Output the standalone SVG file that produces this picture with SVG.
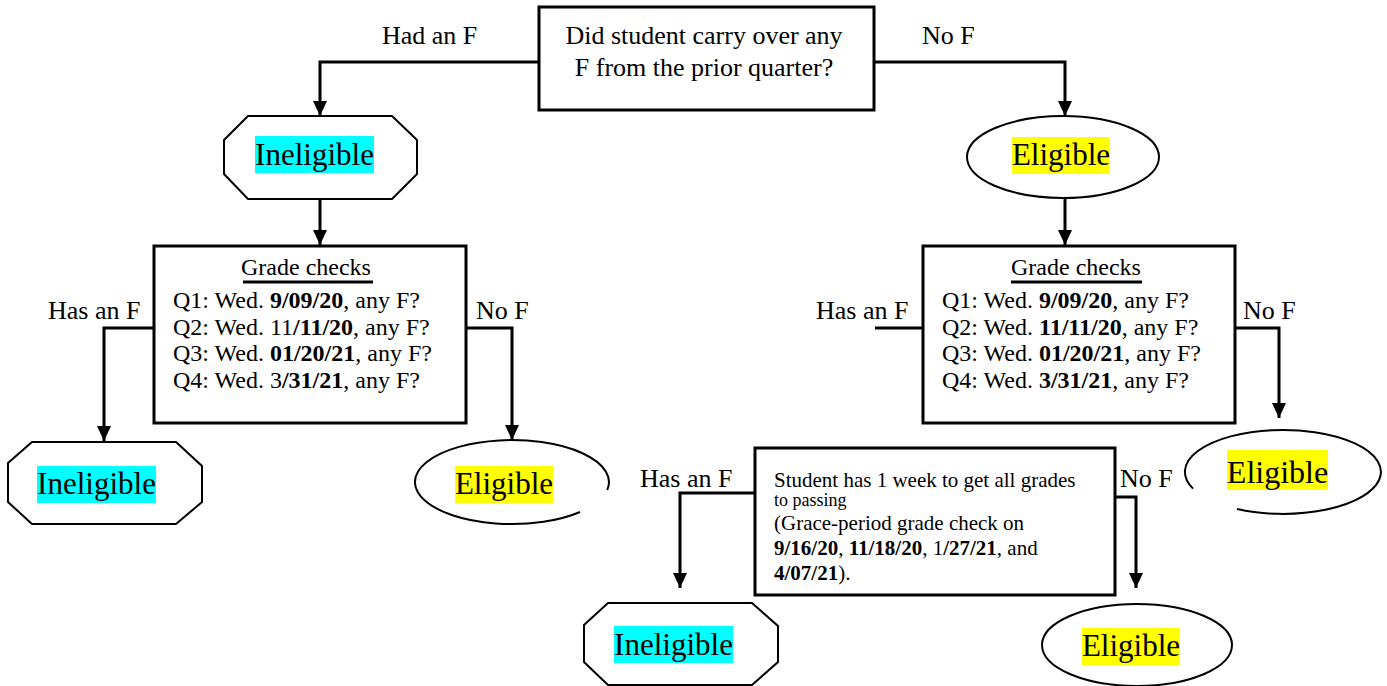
<svg xmlns="http://www.w3.org/2000/svg" width="1387" height="686" viewBox="0 0 1387 686">
<defs>
<marker id="arr" markerUnits="userSpaceOnUse" markerWidth="16" markerHeight="16" viewBox="0 0 16 16" refX="15" refY="8" orient="auto">
<path d="M0,1 L15,8 L0,15 Z" fill="#000"/>
</marker>
</defs>
<style>
text{font-family:"Liberation Serif","Times New Roman",serif;fill:#000}
.box{fill:#fff;stroke:#000;stroke-width:3}
.shape{fill:#fff;stroke:#000;stroke-width:2}
.big{font-family:"Liberation Serif","Times New Roman",serif;font-size:31px;text-anchor:middle}
.lbl{font-size:26px}
.q{font-size:24px}
.s{font-size:21px}
.cy{fill:#00ffff}
.ye{fill:#ffff00}
.con{fill:none;stroke:#000;stroke-width:3}
.b{font-weight:bold}
</style>
<g id="connectors">
<polyline class="con" points="539,62 320,62 320,116" marker-end="url(#arr)"/>
<polyline class="con" points="874,62 1065,62 1065,116" marker-end="url(#arr)"/>
<polyline class="con" points="320,200 320,245" marker-end="url(#arr)"/>
<polyline class="con" points="1065,199 1065,245" marker-end="url(#arr)"/>
<polyline class="con" points="154,328 104,328 104,441" marker-end="url(#arr)"/>
<polyline class="con" points="466,328 512,328 512,440" marker-end="url(#arr)"/>
<polyline class="con" points="923,328 875,328"/>
<polyline class="con" points="1235,328 1279,328 1279,418" marker-end="url(#arr)"/>
<polyline class="con" points="755,493 680,493 680,588" marker-end="url(#arr)"/>
<polyline class="con" points="1115,497 1136,497 1136,588" marker-end="url(#arr)"/>
<text class="lbl" x="382" y="44">Had an F</text>
<text class="lbl" x="922" y="44">No F</text>
<text class="lbl" x="48" y="319">Has an F</text>
<text class="lbl" x="476" y="319">No F</text>
<text class="lbl" x="816" y="319">Has an F</text>
<text class="lbl" x="1243" y="319">No F</text>
<text class="lbl" x="640" y="487">Has an F</text>
<text class="lbl" x="1120" y="487">No F</text>
</g>
<g id="question">
<rect class="box" x="539" y="7" width="335" height="103"/>
<text x="704" y="44" font-size="26" text-anchor="middle">Did student carry over any</text>
<text x="704" y="76" font-size="26" text-anchor="middle">F from the prior quarter?</text>
</g>
<g id="ineligible1">
<polygon class="shape" points="248,116 392,116 417,140 417,174 392,199 248,199 224,174 224,140"/>
<rect class="cy" x="255" y="136" width="119" height="37"/>
<text class="big" x="314.5" y="165">Ineligible</text>
</g>
<g id="eligible1">
<ellipse class="shape" cx="1063" cy="157" rx="96" ry="41"/>
<rect class="ye" x="1012" y="137" width="98" height="37"/>
<text class="big" x="1061" y="165">Eligible</text>
</g>
<g id="gradecheck-left">
<rect class="box" x="154" y="246" width="312" height="177"/>
<text class="q" x="306" y="275" text-anchor="middle">Grade checks</text>
<line x1="243" y1="282" x2="373" y2="282" stroke="#000" stroke-width="3"/>
<text class="q" x="173" y="308">Q1: Wed. <tspan class="b">9/09/20</tspan>, any F?</text>
<text class="q" x="173" y="335">Q2: Wed. 11<tspan class="b">/11/20</tspan>, any F?</text>
<text class="q" x="173" y="361">Q3: Wed. <tspan class="b">01/20/21</tspan>, any F?</text>
<text class="q" x="173" y="388">Q4: Wed. 3<tspan class="b">/31/21</tspan>, any F?</text>
</g>
<g id="gradecheck-right">
<rect class="box" x="923" y="246" width="312" height="177"/>
<text class="q" x="1076" y="275" text-anchor="middle">Grade checks</text>
<line x1="1011" y1="282" x2="1142" y2="282" stroke="#000" stroke-width="3"/>
<text class="q" x="942" y="308">Q1: Wed. <tspan class="b">9/09/20</tspan>, any F?</text>
<text class="q" x="942" y="335">Q2: Wed. <tspan class="b">11/11/20</tspan>, any F?</text>
<text class="q" x="942" y="361">Q3: Wed. <tspan class="b">01/20/21</tspan>, any F?</text>
<text class="q" x="942" y="388">Q4: Wed. <tspan class="b">3/31/21</tspan>, any F?</text>
</g>
<g id="ineligible2">
<polygon class="shape" points="32,442 176,442 202,466 202,502 176,524 32,524 8,502 8,463"/>
<rect class="cy" x="37" y="466" width="119" height="37"/>
<text class="big" x="96.5" y="494">Ineligible</text>
</g>
<g id="eligible2">
<path class="shape" d="M580,512 A97,42 0 1 1 607.2,490"/>
<rect class="ye" x="455" y="466" width="98" height="37"/>
<text class="big" x="504" y="494">Eligible</text>
</g>
<g id="grace">
<rect class="box" x="755" y="448" width="360" height="147"/>
<text class="s" x="774" y="487">Student has 1 week to get all grades</text>
<text x="774" y="506" font-size="18">to passing</text>
<text class="s" x="774" y="530">(Grace-period grade check on</text>
<text class="s" x="774" y="555"><tspan class="b">9/16/20</tspan>, <tspan class="b">11/18/20</tspan>, 1<tspan class="b">/27/21</tspan>, and</text>
<text class="s" x="774" y="580"><tspan class="b">4/07/21</tspan>).</text>
</g>
<g id="eligible3">
<path class="shape" d="M1193,488.6 A98,42 0 1 1 1237,509"/>
<rect class="ye" x="1227" y="450" width="101" height="40"/>
<text class="big" x="1277.5" y="483" style="font-size:32px">Eligible</text>
</g>
<g id="ineligible3">
<polygon class="shape" points="608,603 752,603 778,626 778,662 752,685 608,685 584,662 584,625"/>
<rect class="cy" x="614" y="626" width="119" height="37"/>
<text class="big" x="673.5" y="655">Ineligible</text>
</g>
<g id="eligible4">
<ellipse class="shape" cx="1137" cy="645" rx="95" ry="41"/>
<rect class="ye" x="1082" y="628" width="98" height="37"/>
<text class="big" x="1131" y="656">Eligible</text>
</g>
</svg>
